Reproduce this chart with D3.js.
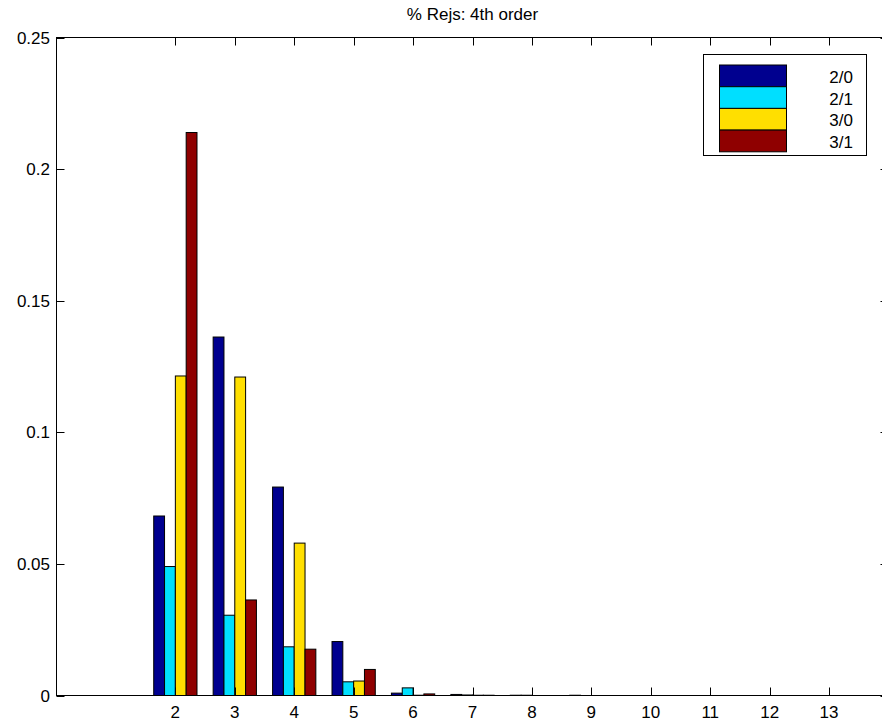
<!DOCTYPE html>
<html>
<head>
<meta charset="utf-8">
<script src="https://cdn.jsdelivr.net/npm/d3@7"></script>
<style>
  body { margin: 0; background: #fff; }
  text { font-family: "Liberation Sans", Arial, sans-serif; }
</style>
</head>
<body>
<div id="chart"></div>
<script>
// data
const categories = [2, 3, 4, 5, 6, 7, 8, 9, 10, 11, 12, 13];
const seriesNames = ["2/0", "2/1", "3/0", "3/1"];
const s20 = [0.0682, 0.1362, 0.0792, 0.0205, 0.0009, 0.0004, 0.0001, 0.0001, 0, 0, 0, 0];
const s21 = [0.0490, 0.0305, 0.0185, 0.0052, 0.0029, 0.0002, 0.0001, 0, 0, 0, 0, 0];
const s30 = [0.1214, 0.1210, 0.0579, 0.0055, 0.0001, 0.0001, 0, 0, 0, 0, 0, 0];
const s31 = [0.2139, 0.0363, 0.0176, 0.0099, 0.0006, 0.0001, 0, 0, 0, 0, 0, 0];
const colors = ["#00008f", "#00dfff", "#ffdf00", "#8f0000"];
const yTicks = [0, 0.05, 0.1, 0.15, 0.2, 0.25];

const W = 882, H = 726;
const svg = d3.select("#chart").append("svg").attr("width", W).attr("height", H);

const m = { left: 56.5, right: 888.5, top: 37.5, bottom: 695.5 };
const x = d3.scaleLinear().domain([0, 14]).range([m.left, m.right]);
const y = d3.scaleLinear().domain([0, 0.25]).range([m.bottom, m.top]);

const series = [s20, s21, s30, s31];
const groupW = 0.728, barW = groupW / 4;

// bars
series.forEach((vals, si) => {
  svg.append("g").selectAll("rect")
    .data(vals.map((v, i) => ({ c: categories[i], v })))
    .enter()
    .append("rect")
    .attr("x", d => x(d.c - groupW / 2 + si * barW))
    .attr("width", x(barW) - x(0))
    .attr("y", d => y(d.v))
    .attr("height", d => y(0) - y(d.v))
    .attr("fill", colors[si])
    .attr("stroke", "#000")
    .attr("stroke-width", 1);
});

// axes box
const tickLen = 8;
svg.append("rect")
  .attr("x", m.left).attr("y", m.top)
  .attr("width", m.right - m.left).attr("height", m.bottom - m.top)
  .attr("fill", "none").attr("stroke", "#000").attr("stroke-width", 1);

const ax = svg.append("g").attr("stroke", "#000").attr("stroke-width", 1);
categories.forEach(c => {
  const px = Math.round(x(c)) + 0.5;
  ax.append("line").attr("x1", px).attr("x2", px).attr("y1", m.bottom).attr("y2", m.bottom - tickLen);
  ax.append("line").attr("x1", px).attr("x2", px).attr("y1", m.top).attr("y2", m.top + tickLen);
});
yTicks.forEach(t => {
  const py = Math.round(y(t)) + 0.5;
  ax.append("line").attr("x1", m.left).attr("x2", m.left + tickLen).attr("y1", py).attr("y2", py);
  ax.append("line").attr("x1", m.right).attr("x2", m.right - tickLen).attr("y1", py).attr("y2", py);
});

svg.append("g").selectAll("text")
  .data(categories)
  .enter()
  .append("text")
  .attr("x", d => x(d))
  .attr("y", m.bottom + 22)
  .attr("text-anchor", "middle")
  .attr("font-size", 17)
  .text(d => d);

svg.append("g").selectAll("text")
  .data(yTicks)
  .enter()
  .append("text")
  .attr("x", m.left - 6.5)
  .attr("y", d => y(d) + 6)
  .attr("text-anchor", "end")
  .attr("font-size", 17)
  .text(d => d);

// title
svg.append("text")
  .attr("x", (m.left + m.right) / 2)
  .attr("y", 20)
  .attr("text-anchor", "middle")
  .attr("font-size", 17)
  .text("% Rejs: 4th order");

// legend
const lg = svg.append("g");
lg.append("rect")
  .attr("x", 703.5).attr("y", 54.5).attr("width", 163).attr("height", 101)
  .attr("fill", "#fff").attr("stroke", "#000");
seriesNames.forEach((name, i) => {
  const ry = 65 + i * 21.7;
  lg.append("rect")
    .attr("x", 719.5).attr("y", ry).attr("width", 67).attr("height", 21.7)
    .attr("fill", colors[i]).attr("stroke", "#000");
  lg.append("text")
    .attr("x", 853)
    .attr("y", ry + 18)
    .attr("text-anchor", "end")
    .attr("font-size", 17)
    .text(name);
});
</script>
</body>
</html>
